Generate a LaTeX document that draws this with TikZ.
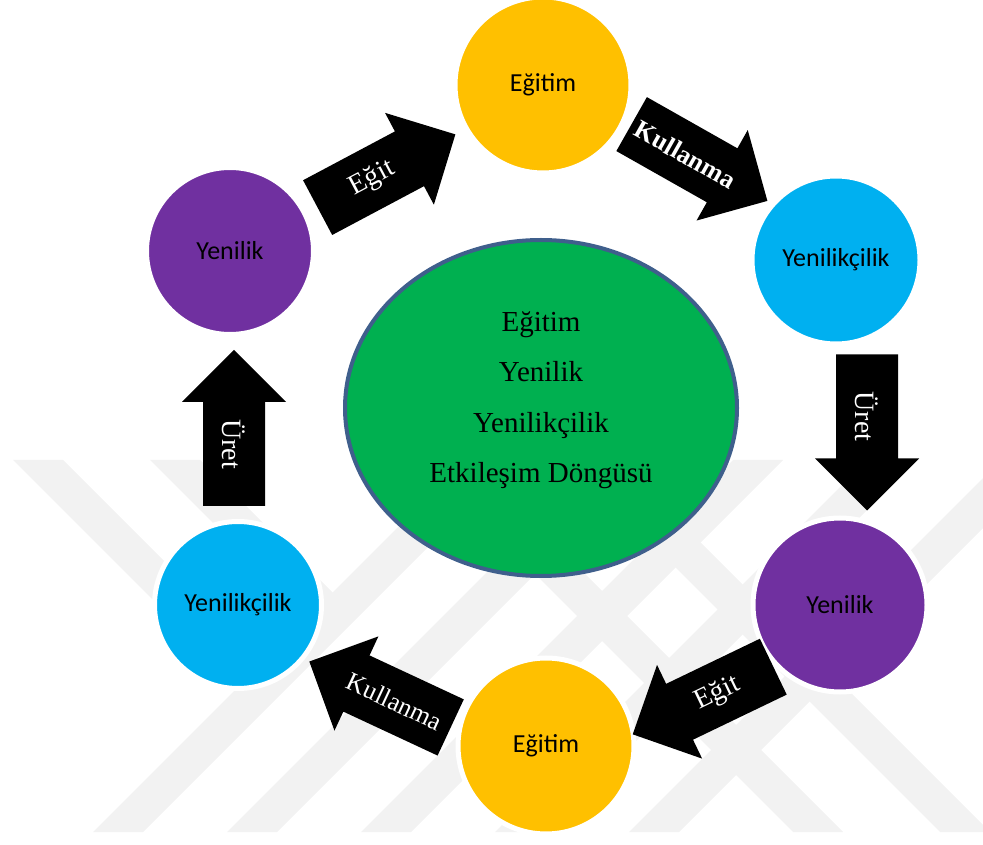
\documentclass[tikz,border=0pt]{standalone}
\usepackage{fontspec}
\setmainfont{Liberation Serif}
\newfontfamily\calibri{Carlito}
\usetikzlibrary{calc,shapes.geometric}

\definecolor{egtorange}{HTML}{FFC000}
\definecolor{yncblue}{HTML}{00B0F0}
\definecolor{yenpurple}{HTML}{7030A0}
\definecolor{hubgreen}{HTML}{00B050}
\definecolor{hubedge}{HTML}{3F5F8C}
\definecolor{markgray}{HTML}{F2F2F2}

\begin{document}
\begin{tikzpicture}[x=1pt, y=1pt,
	cyc/.style={circle, draw=white, line width=5pt, inner sep=0pt,
		font=\calibri\fontsize{26}{30}\selectfont},
	hub/.style={ellipse, fill=hubgreen, draw=hubedge, line width=4pt,
		minimum width=392pt, minimum height=336pt},
	arrowlabel/.style={text=white, transform shape, inner sep=0pt,
		font=\fontsize{26}{30}\selectfont},
	arrow right/.pic={
		\fill (-78,-31) -- (26,-31) -- (26,-52) -- (78,0) -- (26,52) -- (26,31) -- (-78,31) -- cycle;
		\node[arrowlabel] at (-16,0) {#1};},
	arrow left/.pic={
		\fill (78,-31) -- (-26,-31) -- (-26,-52) -- (-78,0) -- (-26,52) -- (-26,31) -- (78,31) -- cycle;
		\node[arrowlabel] at (16,0) {#1};}]
\useasboundingbox (0,0) rectangle (983,844);

% faint stripes behind everything
\begin{scope}
\clip (0,12) rectangle (983,384);
\foreach \b in {93,227,361,495,629}
	\fill[markgray] (\b,12) -- (\b+50,12) -- (\b+422,384) -- (\b+372,384) -- cycle;
\foreach \t in {421,568}
	\fill[markgray] (\t,384) -- (\t+50,384) -- (\t+422,12) -- (\t+372,12) -- cycle;
\foreach \t in {13,150}
	\fill[markgray] (\t,384) -- (\t+50,384) -- (\t+200,234) -- (\t+150,234) -- cycle;
\end{scope}

\node[hub] (hub) at (541,436) {};
\node[align=center, font=\fontsize{29}{50.5}\selectfont] (hubtext) at ([yshift=8pt]hub.center)
	{Eğitim\\Yenilik\\Yenilikçilik\\Etkileşim Döngüsü};

\node[cyc, fill=egtorange, minimum size=176pt] (egtT) at (543,759) {Eğitim};
\node[cyc, fill=yncblue, minimum size=168pt] (yncR) at (836,584) {Yenilikçilik};
\node[cyc, fill=yenpurple, minimum size=174pt] (yenR) at (840,239) {Yenilik};
\node[cyc, fill=egtorange, minimum size=176pt] (egtB) at (546,98) {Eğitim};
\node[cyc, fill=yncblue, minimum size=167pt] (yncL) at (238,239) {Yenilikçilik};
\node[cyc, fill=yenpurple, minimum size=167pt] (yenL) at (230,593) {Yenilik};

\pic[rotate=28] at ($(yenL)!.5!(egtT)+(0,-3)$) {arrow right={\fontsize{28}{30}\selectfont Eğit}};
\pic[rotate=-29.5] at ($(egtT)!.5!(yncR)+(10,10)$) {arrow right=\textbf{Kullanma}};
\pic[rotate=-90] at ($(yncR)!.5!(yenR)+(29,0)$) {arrow right={\fontsize{28}{30}\selectfont Üret}};
\pic[rotate=25.7] at ($(yenR)!.5!(egtB)+(10,-25)$) {arrow left={\fontsize{28}{30}\selectfont Eğit}};
\pic[rotate=-25] at ($(egtB)!.5!(yncL)+(-12,-19)$) {arrow left=Kullanma};
\pic[rotate=-90] at ($(yncL)!.5!(yenL)$) {arrow left={\fontsize{28}{30}\selectfont Üret}};
\end{tikzpicture}
\end{document}
